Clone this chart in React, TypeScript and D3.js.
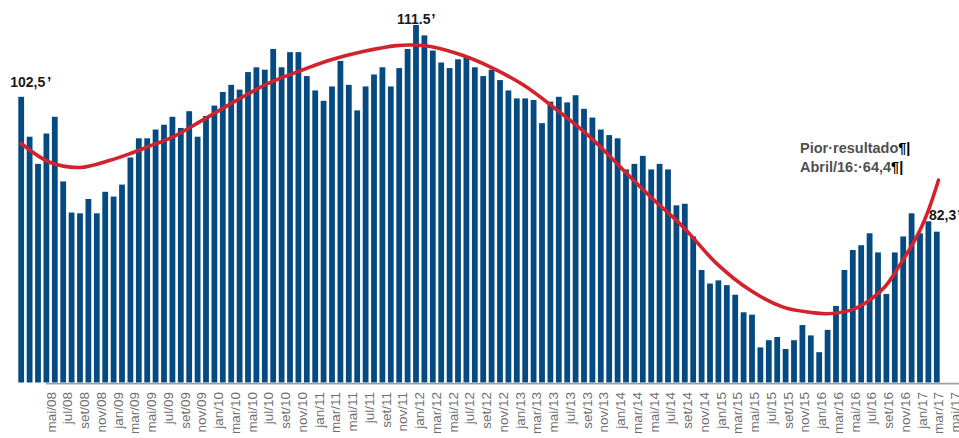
import React from "react";
import * as d3 from "d3";

const W = 959;
const H = 438;

// Monthly index values (110 months)
const barValues = [
  102.5, 97.5, 94.1, 97.9, 100.0, 91.9, 88.0, 87.9, 89.7, 87.9,
  90.6, 90.0, 91.5, 94.9, 97.3, 97.3, 98.4, 99.0, 100.0, 98.6,
  100.7, 97.5, 100.1, 101.4, 103.1, 104.0, 103.4, 105.6, 106.2, 105.9,
  108.5, 106.2, 108.1, 108.1, 105.1, 103.3, 102.0, 103.8, 107.0, 104.0,
  100.8, 103.8, 105.3, 106.2, 103.8, 106.1, 108.5, 111.5, 110.2, 108.3,
  106.8, 106.1, 107.2, 107.4, 106.2, 105.1, 105.9, 104.6, 103.3, 102.3,
  102.3, 102.1, 99.2, 101.9, 102.5, 101.8, 102.7, 101.0, 99.9, 98.4,
  97.7, 97.3, 93.4, 94.1, 95.1, 93.4, 94.1, 93.4, 88.9, 89.1,
  85.0, 80.8, 79.1, 79.5, 78.9, 77.7, 75.5, 75.2, 71.1, 72.0,
  72.4, 70.9, 72.0, 73.9, 72.6, 70.5, 73.3, 76.3, 80.8, 83.3,
  83.9, 85.4, 83.0, 77.8, 83.0, 85.0, 87.9, 85.4, 86.9, 85.6,
];

// Trend line (red), sampled along the month index
const trendIdx = [
  1, 4.4, 8, 11.6, 14, 16.9, 18.7, 22.7, 26.7, 30.6, 34.6, 38, 41.7, 45.7,
  47.7, 49.7, 53.6, 57, 60.8, 64.8, 68.7, 72.7, 76.1, 79.8, 83.8, 87.8, 91.7,
  95, 96.9, 99.7, 101.7, 103.8, 105.7, 107.8, 109, 110.2,
];
const trendVal = [
  96.65, 94.3, 93.65, 94.56, 95.4, 96.57, 97.28, 99.64, 102.09, 104.28, 105.92,
  107.17, 108.17, 108.92, 108.99, 108.8, 107.67, 106.16, 103.97, 100.83, 97.48,
  93.3, 89.79, 86.19, 81.6, 78.25, 76.15, 75.48, 75.32, 75.74, 76.78, 78.66,
  81.6, 85.36, 88.28, 92.05,
];

const tickLabels = [
  "mai/08", "jul/08", "set/08", "nov/08",
  "jan/09", "mar/09", "mai/09", "jul/09", "set/09", "nov/09",
  "jan/10", "mar/10", "mai/10", "jul/10", "set/10", "nov/10",
  "jan/11", "mar/11", "mai/11", "jul/11", "set/11", "nov/11",
  "jan/12", "mar/12", "mai/12", "jul/12", "set/12", "nov/12",
  "jan/13", "mar/13", "mai/13", "jul/13", "set/13", "nov/13",
  "jan/14", "mar/14", "mai/14", "jul/14", "set/14", "nov/14",
  "jan/15", "mar/15", "mai/15", "jul/15", "set/15", "nov/15",
  "jan/16", "mar/16", "mai/16", "jul/16", "set/16", "nov/16",
  "jan/17", "mar/17", "mai/17",
];

const FONT = "'Liberation Sans', Arial, sans-serif";

export default function App() {
  const x = d3.scaleLinear().domain([1, 110]).range([21.2, 21.2 + 109 * 8.4]);
  const y = d3.scaleLinear().domain([66.7, 111.5]).range([382.5, 25]);
  const xl = d3.scalePoint<string>().domain(tickLabels).range([50.7, 955.2]);
  const bw = 5.8;

  const trendPts: [number, number][] = trendIdx.map((t, i) => [t, trendVal[i]]);
  const line = d3
    .line<[number, number]>()
    .x((d) => x(d[0]))
    .y((d) => y(d[1]))
    .curve(d3.curveCatmullRom.alpha(0.5));

  return (
    <svg
      width={W}
      height={H}
      style={{ position: "absolute", left: 0, top: 0, background: "#fff" }}
      fontFamily={FONT}
    >
      <rect x={0} y={0} width={W} height={H} fill="#fff" />
      {barValues.map((v, i) => (
        <rect
          key={i}
          x={x(i + 1) - bw / 2}
          y={y(v)}
          width={bw}
          height={y(66.7) - y(v)}
          fill="#054a80"
        />
      ))}
      <line x1={46} x2={W} y1={383.6} y2={383.6} stroke="#a0a0a0" strokeWidth={1.6} />
      <path d={line(trendPts) || ""} fill="none" stroke="#d2232c" strokeWidth={3.6} strokeLinecap="round" />

      {tickLabels.map((l) => (
        <text
          key={l}
          transform={`translate(${xl(l)},392) rotate(-90)`}
          textAnchor="end"
          dy="0.36em"
          fontSize={13.5}
          fill="#6e6e6e"
        >
          {l}
        </text>
      ))}

      <text x={x(1) - 11} y={y(102.5) - 9.5} fontSize={14} fontWeight="bold" fill="#1a1a1a">
        102,5<tspan dx={2} fill="#000">’</tspan>
      </text>
      <text x={x(48) - 19} y={y(111.5) - 1} fontSize={14} fontWeight="bold" fill="#1a1a1a">
        111.5<tspan dx={1} fill="#000">’</tspan>
      </text>
      <text x={929} y={220} fontSize={14} fontWeight="bold" fill="#1a1a1a">
        82,3<tspan dx={1} fill="#000">’</tspan>
      </text>

      <text x={800} y={153} fontSize={14.5} fontWeight="bold" fill="#505050">
        Pior·resultado<tspan fill="#000">¶|</tspan>
      </text>
      <text x={800} y={172} fontSize={14.5} fontWeight="bold" fill="#505050">
        Abril/16:·64,4<tspan fill="#000">¶|</tspan>
      </text>
    </svg>
  );
}
